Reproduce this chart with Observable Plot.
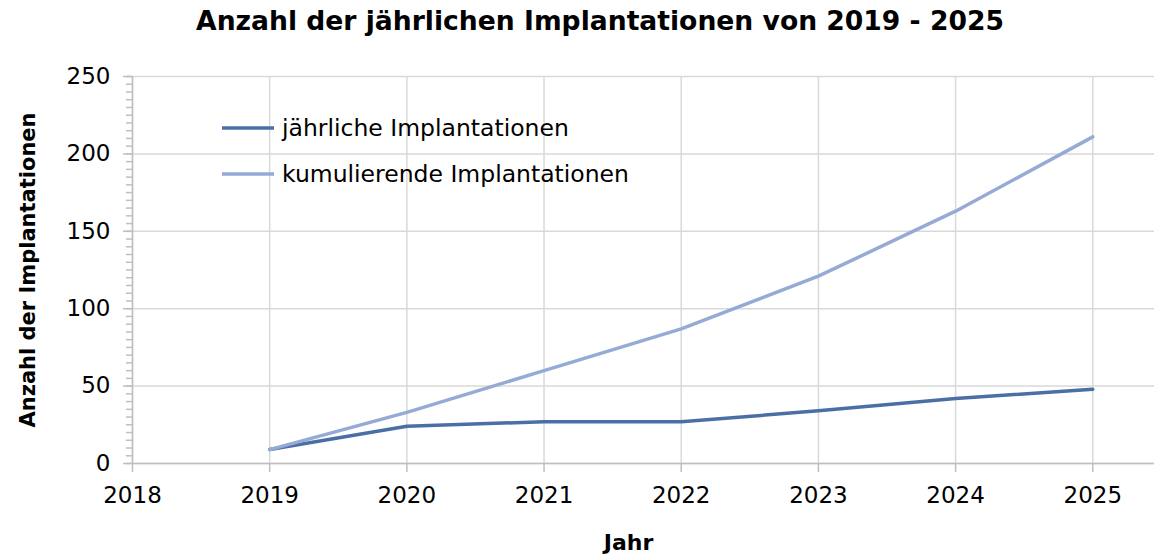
<!DOCTYPE html>
<html>
<head>
<meta charset="utf-8">
<script src="https://cdn.jsdelivr.net/npm/d3@7"></script>
<script src="https://cdn.jsdelivr.net/npm/@observablehq/plot@0.6"></script>
<style>
  body { margin: 0; background: #fff; font-family: "DejaVu Sans", sans-serif; }
  #wrap { position: relative; width: 1154px; height: 557px; overflow: hidden; }
  #title { position: absolute; left: 0; top: 5px; width: 1200px; text-align: center; font-weight: bold; font-size: 26.6px; color: #000; }
  #chart { position: absolute; left: 0; top: 50px; }
  #legend { position: absolute; left: 222px; top: 105px; font-size: 23.5px; color: #000; }
  #legend div { height: 46px; display: flex; align-items: center; }
  #legend svg { margin-right: 8px; }
</style>
</head>
<body>
<div id="wrap">
  <div id="title">Anzahl der jährlichen Implantationen von 2019 - 2025</div>
  <div id="chart"></div>
  <div id="legend"></div>
</div>
<script>
const years = [2019, 2020, 2021, 2022, 2023, 2024, 2025];
const yearly = [9, 24, 27, 27, 34, 42, 48];
const cumulative = [9, 33, 60, 87, 121, 163, 211];
const seriesNames = ["jährliche Implantationen", "kumulierende Implantationen"];
const seriesColors = ["#4a6fa5", "#95abd5"];
const xTicks = [2018, 2019, 2020, 2021, 2022, 2023, 2024, 2025];
const yTicks = [0, 50, 100, 150, 200, 250];

const dataYearly = years.map((y, i) => ({year: y, value: yearly[i]}));
const dataCum = years.map((y, i) => ({year: y, value: cumulative[i]}));
const minorY = d3.range(0, 251, 5);

const chart = Plot.plot({
  width: 1154,
  height: 507,
  marginLeft: 132,
  marginRight: 0,
  marginTop: 26,
  marginBottom: 94,
  style: {fontFamily: "DejaVu Sans, sans-serif", fontSize: "20px", color: "#000", background: "#fff"},
  x: {domain: [2018, 2025.45]},
  y: {domain: [0, 250]},
  marks: [
    Plot.gridX(xTicks, {stroke: "#d9d9d9", strokeOpacity: 1, strokeWidth: 1.5}),
    Plot.gridY(yTicks, {stroke: "#d9d9d9", strokeOpacity: 1, strokeWidth: 1.5}),
    Plot.axisY(minorY, {tickSize: 6, tickFormat: () => "", stroke: "#bfbfbf", strokeWidth: 1.5, label: null}),
    Plot.axisY(yTicks, {tickSize: 9, tickPadding: 13, stroke: "#bfbfbf", strokeWidth: 1.5, fontSize: 23, label: null}),
    Plot.axisX(xTicks, {tickSize: 9, tickPadding: 14, tickFormat: d => String(d), stroke: "#bfbfbf", strokeWidth: 1.5, fontSize: 23, label: null}),
    Plot.ruleY([0], {stroke: "#bfbfbf", strokeWidth: 1.5}),
    Plot.ruleX([2018], {stroke: "#bfbfbf", strokeWidth: 1.5}),
    Plot.lineY(dataYearly, {x: "year", y: "value", stroke: seriesColors[0], strokeWidth: 3.5}),
    Plot.lineY(dataCum, {x: "year", y: "value", stroke: seriesColors[1], strokeWidth: 3.5}),
    Plot.text(["Jahr"], {frameAnchor: "bottom", dy: 86, fontWeight: "bold", fontSize: 22, dx: -15}),
    Plot.text(["Anzahl der Implantationen"], {frameAnchor: "left", textAnchor: "middle", dx: -104, rotate: -90, fontWeight: "bold", fontSize: 21})
  ]
});
document.getElementById("chart").appendChild(chart);

const legend = document.getElementById("legend");
seriesNames.forEach((name, i) => {
  const row = document.createElement("div");
  row.innerHTML = `<svg width="52" height="6"><line x1="0" y1="3" x2="52" y2="3" stroke="${seriesColors[i]}" stroke-width="3.5"/></svg><span>${name}</span>`;
  legend.appendChild(row);
});
</script>
</body>
</html>
